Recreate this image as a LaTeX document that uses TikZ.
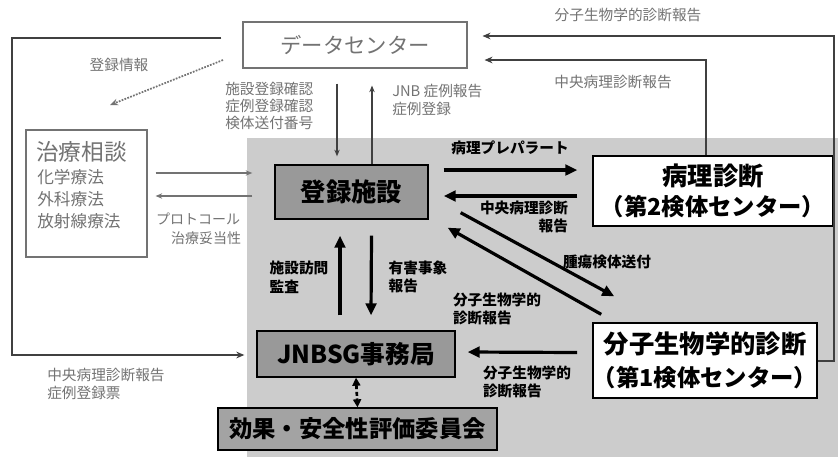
\documentclass[tikz,border=0pt]{standalone}
\usepackage{fontspec}
\setmainfont{Noto Sans CJK JP}
\usetikzlibrary{arrows.meta,calc}
\definecolor{bggray}{gray}{0.80}
\definecolor{boxgray}{gray}{0.60}
\definecolor{evalgray}{gray}{0.64}
\definecolor{lightink}{gray}{0.45}
\definecolor{outerink}{gray}{0.25}
\tikzset{
  fz/.style 2 args={font=\fontsize{#1}{#2}\selectfont},
  bfz/.style 2 args={font=\fontsize{#1}{#2}\selectfont\bfseries},
  mainbox/.style={draw=black,line width=1pt,inner sep=0pt,align=center},
  greybox/.style={draw=lightink,line width=0.8pt,inner sep=0pt,align=center},
  lbl/.style={inner sep=0pt,text=lightink},
  blbl/.style={inner sep=0pt,font=\fontsize{11}{14}\selectfont\bfseries,align=left},
  bigarrow/.style={line width=2.4pt,-{Triangle[length=9pt,width=8pt]}},
  thinarrow/.style={line width=1.1pt,draw=outerink,-{Stealth[length=5pt,width=4pt]}},
  outerline/.style={line width=1.5pt,draw=outerink,-{Stealth[length=6pt,width=5pt]}},
  dotarrow/.style={line width=1.3pt,draw=lightink,densely dotted,-{Stealth[length=6pt,width=5pt]}},
}
\begin{document}
\begin{tikzpicture}[x=0.75pt,y=-0.75pt]
\useasboundingbox (0,0) rectangle (838,457);
\fill[white] (0,0) rectangle (838,457);
\fill[bggray] (247,138) rectangle (838,457);

% boxes
\node[greybox,minimum width=168pt,minimum height=34.5pt,text=lightink,fz={16}{18}] (dc) at (355,45) {データセンター};
\node[greybox,minimum width=90.75pt,minimum height=95.25pt] (treat) at (86.5,193.5) {};
\node[mainbox,fill=boxgray,minimum width=114.75pt,minimum height=40.5pt,bfz={19}{22}] (reg) at (351.5,192) {登録施設};
\node[mainbox,fill=white,minimum width=180pt,minimum height=52.5pt,bfz={19}{22}] (path) at (713,191) {病理診断\\{\fontsize{17.5}{22}\selectfont（第2検体センター）}};
\node[mainbox,fill=white,minimum width=168pt,minimum height=56.25pt,bfz={19}{25}] (mol) at (705,360.5) {分子生物学的診断\\{\fontsize{17.5}{25}\selectfont（第1検体センター）}};
\node[mainbox,fill=boxgray,minimum width=148.5pt,minimum height=34.5pt,bfz={18.5}{22}] (jnb) at (356,354) {JNBSG事務局};
\node[mainbox,fill=evalgray,minimum width=209.25pt,minimum height=31.5pt,bfz={17.5}{22}] (eval) at (357.5,429) {効果・安全性評価委員会};

% treatment box contents
\node[lbl,anchor=west,fz={17}{20}] (t1) at (36,152) {治療相談};
\node[lbl,anchor=west,fz={12.5}{15}] (t2) at (37,177) {化学療法};
\node[lbl,anchor=west,fz={12.5}{15}] (t3) at (37,199) {外科療法};
\node[lbl,anchor=west,fz={12.5}{15}] (t4) at (37,221) {放射線療法};

% grey labels (top region)
\node[lbl,fz={11}{13}] (topmol) at (628,15) {分子生物学的診断報告};
\node[lbl,fz={11}{13}] (toppath) at (613,82) {中央病理診断報告};
\node[lbl,fz={11}{13}] (reginfo) at (119,65) {登録情報};
\node[lbl,anchor=west,align=left,fz={11}{12.75}] (chk) at (225,106) {施設登録確認\\症例登録確認\\検体送付番号};
\node[lbl,anchor=west,align=left,fz={11}{13.5}] (jnbrep) at (392,100) {JNB 症例報告\\症例登録};
\node[lbl,fz={10.5}{13}] (proto) at (198,219) {プロトコール};
\node[lbl,fz={10.5}{13}] (valid) at (206,238) {治療妥当性};
\node[lbl,anchor=west,align=left,fz={11}{13.5}] (blrep) at (47,384) {中央病理診断報告\\症例登録票};

% bold labels
\node[blbl] (prep) at (510,148) {病理プレパラート};
\node[blbl,align=right] (cprep) at (524,217) {中央病理診断\\報告};
\node[blbl] (tumor) at (607,262) {腫瘍検体送付};
\node[blbl] (molrep1) at (497,309) {分子生物学的\\診断報告};
\node[blbl] (molrep2) at (527,382) {分子生物学的\\診断報告};
\node[blbl] (visit) at (299,277) {施設訪問\\監査};
\node[blbl] (adv) at (418,277) {有害事象\\報告};

% outer lines
\draw[outerline] (mol.east) -- (834,360.5) -- (834,36) -- ($(dc.east)+(15,-9)$);
\draw[outerline] (706,0 |- path.north) -- (706,60) -- ($(dc.east)+(17,15)$);
\draw[outerline] ($(dc.west)+(-21,-7)$) -- (12,38) -- (12,355) -- ($(jnb.west)+(-12,1)$);

% top region arrows
\coordinate (dotstart) at (223,60);
\coordinate (dotend) at (110,105);
\draw[dotarrow] (dotstart) -- (dotend);
\draw[thinarrow] ($(dc.south)+(-18,15)$) -- ($(reg.north)+(-14.5,-8)$);
\draw[thinarrow] ($(reg.north)+(20.5,0)$) -- ($(dc.south)+(17,17)$);
\draw[thinarrow,line width=1pt,draw=lightink] ($(treat.east)+(8,-20.5)$) -- ($(reg.west)+(-22,-19)$);
\draw[thinarrow,line width=1pt,draw=lightink] ($(reg.west)+(-22,4)$) -- ($(treat.east)+(8,2.5)$);

% main arrows
\draw[bigarrow] ($(reg.east)+(15,-22)$) -- ($(path.west)+(-15,-21)$);
\draw[bigarrow] ($(path.west)+(-15,5)$) -- ($(reg.east)+(15,4)$);
\draw[bigarrow] ($(reg.south east)+(32,-7)$) -- ($(mol.north west)+(22,-26)$);
\draw[bigarrow] ($(mol.north west)+(9,-8)$) -- ($(reg.south east)+(19,8)$);
\draw[bigarrow] ($(mol.west)+(-15,-8)$) -- ($(jnb.east)+(12,-2)$);
\draw[bigarrow] ($(jnb.north)+(-16,-15)$) -- ($(reg.south)+(-11.5,16)$);
\draw[bigarrow] ($(reg.south)+(20,16)$) -- ($(jnb.north)+(15,-15)$);
\draw[line width=2pt,densely dashed,{Triangle[length=6pt,width=6pt]}-{Triangle[length=6pt,width=6pt]}] (jnb.south) -- (eval.north);
\end{tikzpicture}
\end{document}
